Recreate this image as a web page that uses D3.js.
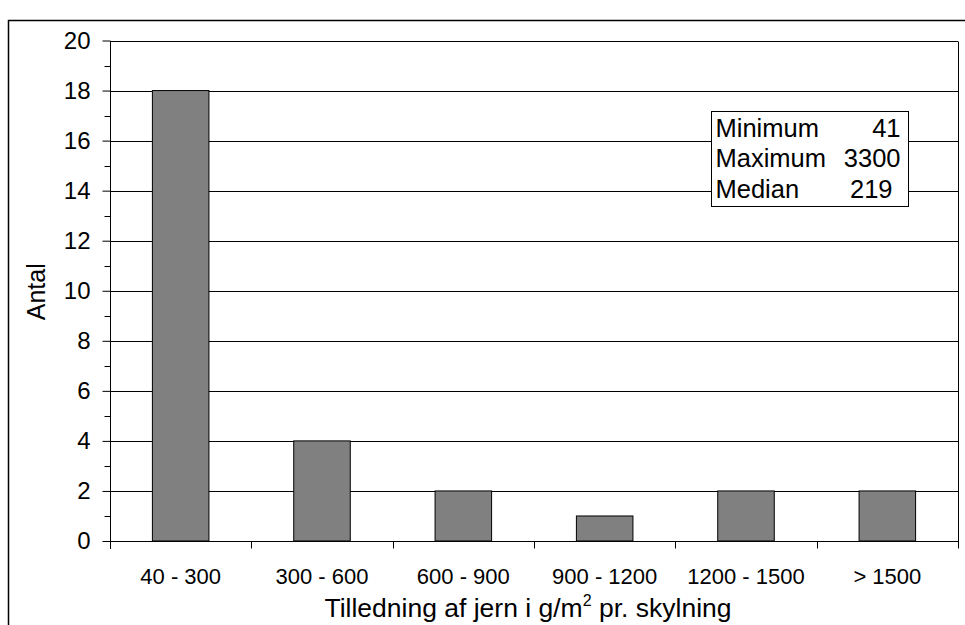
<!DOCTYPE html>
<html>
<head>
<meta charset="utf-8">
<script src="https://cdn.jsdelivr.net/npm/d3@7/dist/d3.min.js"></script>
<style>
  html, body { margin: 0; padding: 0; background: #fff; }
  svg { display: block; font-family: Arial, "Liberation Sans", sans-serif; }
</style>
</head>
<body>
<svg id="chart" width="965" height="625"></svg>
<script>
// Histogram of iron load per flush
const categories = ["40 - 300", "300 - 600", "600 - 900", "900 - 1200", "1200 - 1500", "> 1500"];
const counts = [18, 4, 2, 1, 2, 2];
const yTicks = [0, 2, 4, 6, 8, 10, 12, 14, 16, 18, 20];
const statLabels = ["Minimum", "Maximum", "Median"];
const statValues = ["41", "3300", "219"];

const svg = d3.select("#chart");
const plot = { left: 110, right: 958, top: 40.5, bottom: 541 };

// outer chart frame (extends past the right and bottom edges)
svg.append("rect")
  .attr("x", 8.5).attr("y", 20.5)
  .attr("width", 1000).attr("height", 700)
  .attr("fill", "none").attr("stroke", "#000").attr("stroke-width", 1.5);

const x = d3.scaleBand().domain(categories).range([plot.left, plot.right]).paddingInner(0.6).paddingOuter(0.3);
const xCat = d3.scaleBand().domain(categories).range([plot.left, plot.right]);
const y = d3.scaleLinear().domain([0, 20]).range([plot.bottom, plot.top]);

// horizontal gridlines
svg.append("g").selectAll("line").data(yTicks.filter(d => d > 0)).join("line")
  .attr("x1", plot.left).attr("x2", plot.right)
  .attr("y1", d => Math.round(y(d)) + 0.5).attr("y2", d => Math.round(y(d)) + 0.5)
  .attr("stroke", "#000").attr("stroke-width", 1);

// right edge of plot area
svg.append("line")
  .attr("x1", plot.right + 0.5).attr("x2", plot.right + 0.5)
  .attr("y1", Math.round(y(20)) + 0.5).attr("y2", plot.bottom)
  .attr("stroke", "#000");

// bars
svg.append("g").selectAll("rect").data(counts).join("rect")
  .attr("x", (d, i) => x(categories[i]))
  .attr("y", d => y(d))
  .attr("width", x.bandwidth())
  .attr("height", d => y(0) - y(d))
  .attr("fill", "#808080").attr("stroke", "#000").attr("stroke-width", 1);

// y axis with minor ticks
const yAxis = d3.axisLeft(y).tickValues(yTicks).tickSize(8).tickPadding(12).tickFormat(d3.format("d"));
const gy = svg.append("g").attr("transform", `translate(${plot.left + 0.5},0)`).call(yAxis);
gy.select(".domain").attr("stroke", "#000").attr("d", `M0,${Math.round(y(20))}V${plot.bottom + 8}`);
gy.selectAll(".tick text").attr("font-size", 24).attr("fill", "#000");
gy.selectAll(".tick line").attr("stroke", "#000");
const minor = d3.range(1, 20, 2);
gy.selectAll(".minor").data(minor).join("line").attr("class", "minor")
  .attr("x1", -6).attr("x2", 0)
  .attr("y1", d => Math.round(y(d)) + 0.5).attr("y2", d => Math.round(y(d)) + 0.5)
  .attr("stroke", "#000");

// x axis: category separators below the baseline
const gx = svg.append("g").attr("transform", `translate(0,${plot.bottom + 0.5})`);
gx.append("line").attr("x1", plot.left).attr("x2", plot.right + 1).attr("stroke", "#000");
const bounds = categories.map(c => xCat(c)).concat([plot.right]).slice(1);
gx.selectAll(".sep").data(bounds).join("line").attr("class", "sep")
  .attr("x1", d => Math.round(d) + 0.5).attr("x2", d => Math.round(d) + 0.5)
  .attr("y1", 0).attr("y2", 7).attr("stroke", "#000");
gx.selectAll(".lbl").data(categories).join("text").attr("class", "lbl")
  .attr("x", d => xCat(d) + xCat.bandwidth() / 2)
  .attr("y", 42)
  .attr("text-anchor", "middle").attr("font-size", 22).attr("fill", "#000")
  .text(d => d);

// axis titles
const xt = svg.append("text")
  .attr("x", (plot.left + plot.right) / 2 - 6).attr("y", 617)
  .attr("text-anchor", "middle").attr("font-size", 26.5).attr("fill", "#000");
xt.append("tspan").text("Tilledning af jern i g/m");
xt.append("tspan").attr("font-size", 16).attr("dy", -11).text("2");
xt.append("tspan").attr("dy", 11).text(" pr. skylning");

svg.append("text")
  .attr("transform", `translate(45,${(plot.top + plot.bottom) / 2 + 1}) rotate(-90)`)
  .attr("text-anchor", "middle").attr("font-size", 25).attr("fill", "#000")
  .text("Antal");

// summary statistics box
const box = { x: 711.5, y: 111.5, w: 197, h: 95 };
const sg = svg.append("g");
sg.append("rect").attr("x", box.x).attr("y", box.y).attr("width", box.w).attr("height", box.h)
  .attr("fill", "#fff").attr("stroke", "#000").attr("stroke-width", 1);
sg.selectAll(".sl").data(statLabels).join("text").attr("class", "sl")
  .attr("x", box.x + 4).attr("y", (d, i) => 136.5 + i * 30.5)
  .attr("font-size", 25.5).attr("fill", "#000").text(d => d);
sg.selectAll(".sv").data(statValues).join("text").attr("class", "sv")
  .attr("x", (d, i) => i === 2 ? box.x + 181 : box.x + 189).attr("y", (d, i) => 136.5 + i * 30.5)
  .attr("text-anchor", "end").attr("font-size", 25.5).attr("fill", "#000").text(d => d);
</script>
</body>
</html>
